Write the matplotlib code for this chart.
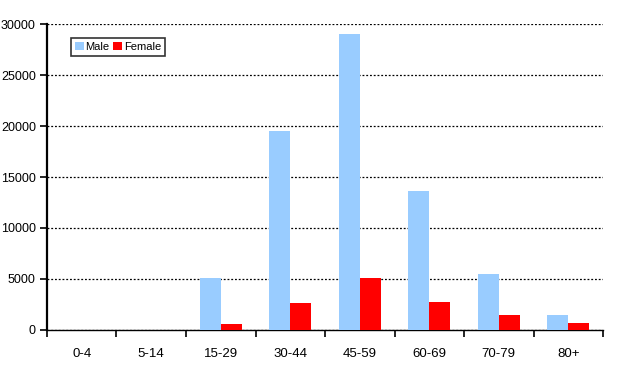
import matplotlib.pyplot as plt
import numpy as np

plt.rcParams['font.family'] = ['Liberation Sans', 'DejaVu Sans']

MALE_BLUE = '#99CCFF'
FEMALE_RED = '#FF0000'

# Data
age_groups = ['0-4', '5-14', '15-29', '30-44', '45-59', '60-69', '70-79', '80+']
male = [0, 0, 5100, 19500, 29000, 13600, 5500, 1450]
female = [0, 0, 550, 2600, 5100, 2750, 1450, 650]

fig = plt.figure(figsize=(6.2, 3.8), dpi=100)
ax = fig.add_axes([0.0758, 0.1316, 0.8968, 0.8052])

x = np.arange(len(age_groups))
w = 0.3
ax.bar(x - w / 2, male, width=w, color=MALE_BLUE, label='Male', zorder=3)
ax.bar(x + w / 2, female, width=w, color=FEMALE_RED, label='Female', zorder=3)

ax.set_xlim(-0.5, len(age_groups) - 0.5)
ax.set_ylim(0, 30000)
ax.set_yticks(np.arange(0, 30001, 5000))
ax.tick_params(axis='y', labelsize=9, length=5, width=1.2, direction='out', pad=3)

ax.set_xticks(x)
ax.set_xticklabels(age_groups, fontsize=9.5)
ax.set_xticks(np.arange(-0.5, len(age_groups)), minor=True)
ax.tick_params(axis='x', which='major', length=0, pad=13)
ax.tick_params(axis='x', which='minor', length=5, width=1.2, direction='out')

ax.grid(axis='y', color='black', linestyle=(0, (1.5, 1.5)), linewidth=0.9, zorder=1)
ax.set_axisbelow(True)

for side in ['top', 'right']:
    ax.spines[side].set_visible(False)
ax.spines['left'].set_linewidth(1.6)
ax.spines['bottom'].set_linewidth(1.0)
ax.spines['bottom'].set_linestyle((0, (1.5, 1.0)))

leg = ax.legend(loc='upper left', bbox_to_anchor=(0.043, 0.955), ncol=2, fontsize=8,
                frameon=True, fancybox=False, handlelength=0.8, handleheight=0.8,
                handletextpad=0.15, columnspacing=0.35, borderpad=0.35, borderaxespad=0)
leg.get_frame().set_edgecolor('black')
leg.get_frame().set_linewidth(1.2)

fig.savefig('out.png', dpi=100, facecolor='white')
